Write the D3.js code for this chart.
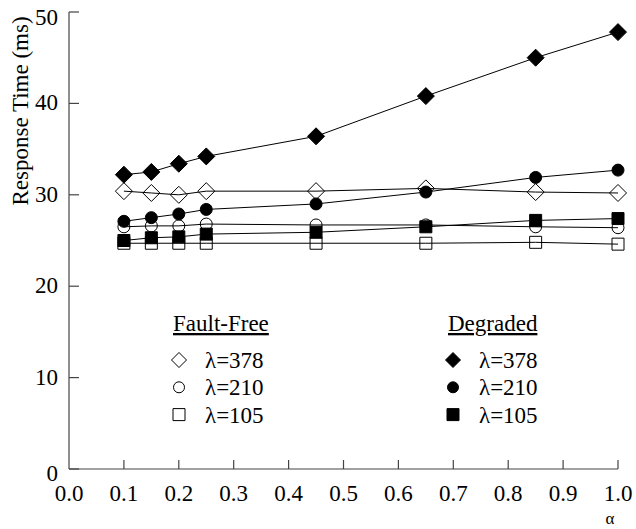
<!DOCTYPE html>
<html>
<head>
<meta charset="utf-8">
<script src="https://d3js.org/d3.v7.min.js"></script>
</head>
<body style="margin:0">
<script>
// alpha values on the x axis
var alphas = [0.1, 0.15, 0.2, 0.25, 0.45, 0.65, 0.85, 1.0]

// fault-free runs (open markers)
var ff378 = [30.4, 30.2, 30.0, 30.4, 30.4, 30.7, 30.3, 30.2]
var ff210 = [26.5, 26.6, 26.6, 26.8, 26.7, 26.7, 26.5, 26.4]
var ff105 = [24.7, 24.7, 24.7, 24.7, 24.7, 24.7, 24.8, 24.6]

// degraded runs (filled markers)
var dg378 = [32.2, 32.5, 33.4, 34.2, 36.4, 40.8, 45.0, 47.8]
var dg210 = [27.1, 27.5, 27.9, 28.4, 29.0, 30.3, 31.9, 32.7]
var dg105 = [25.0, 25.3, 25.4, 25.7, 25.9, 26.5, 27.2, 27.4]

var xTicks = [0, 0.1, 0.2, 0.3, 0.4, 0.5, 0.6, 0.7, 0.8, 0.9, 1.0]
var yTicks = [0, 10, 20, 30, 40, 50]

var series = [
  {name:"λ=378", vals:ff378, shape:"diamond", filled:false},
  {name:"λ=210", vals:ff210, shape:"circle", filled:false},
  {name:"λ=105", vals:ff105, shape:"square", filled:false},
  {name:"λ=378", vals:dg378, shape:"diamond", filled:true},
  {name:"λ=210", vals:dg210, shape:"circle", filled:true},
  {name:"λ=105", vals:dg105, shape:"square", filled:true}
]

var w = 636, h = 529
var x0 = 69, x1 = 618, y0 = 469, y1 = 12
var fs = 23
var fam = "Liberation Serif, Times New Roman, serif"

var xScale = d3.scaleLinear().domain([0,1]).range([x0,x1])
var yScale = d3.scaleLinear().domain([0,50]).range([y0,y1])

var svg = d3.select("body").append("svg")
  .attr("width",w).attr("height",h)
  .attr("font-family",fam)

// every label goes through here so the serif font is set on the element itself
function label(x, y, str, anchor, size){
  return svg.append("text").attr("x",x).attr("y",y)
    .attr("text-anchor",anchor || "start")
    .attr("font-size",size || fs)
    .attr("font-family",fam)
    .style("font-family",fam)
    .text(str)
}

// marker path generator: size is roughly the marker width in px
function marker(shape, size){
  var r = size/2
  if(shape=="diamond") return "M0,"+(-r)+"L"+r+",0L0,"+r+"L"+(-r)+",0Z"
  if(shape=="square") return "M"+(-r)+","+(-r)+"h"+size+"v"+size+"h"+(-size)+"Z"
  return d3.symbol().type(d3.symbolCircle).size(Math.PI*r*r)()
}
var bigSize = {diamond:17, circle:12, square:12}
var smallSize = {diamond:15, circle:11, square:12}

// axes
var axisColor = "#444"
svg.append("line").attr("x1",x0).attr("x2",x0).attr("y1",y1).attr("y2",y0)
  .attr("stroke",axisColor).attr("stroke-width",1.2)
svg.append("line").attr("x1",x0).attr("x2",x1).attr("y1",y0).attr("y2",y0)
  .attr("stroke",axisColor).attr("stroke-width",1.2)

yTicks.forEach(function(d){
  svg.append("line").attr("x1",x0).attr("x2",x0+10)
    .attr("y1",yScale(d)).attr("y2",yScale(d))
    .attr("stroke",axisColor).attr("stroke-width",1.2)
  // top and bottom labels sit a bit lower in the original
  var off = d==50 ? 13 : (d==0 ? 12 : 7)
  label(x0-11, yScale(d)+off, String(d), "end")
})

xTicks.forEach(function(d){
  if(d>0){
    svg.append("line").attr("x1",xScale(d)).attr("x2",xScale(d))
      .attr("y1",y0).attr("y2",y0-9)
      .attr("stroke",axisColor).attr("stroke-width",1.2)
  }
  label(xScale(d), 501, d.toFixed(1), "middle")
})

label(610, 524, "α", "middle", 17)

label(0, 0, "Response Time (ms)", "middle")
  .attr("transform","translate(28,111) rotate(-90)")

// lines
var line = d3.line()
  .x(function(d,i){return xScale(alphas[i])})
  .y(function(d){return yScale(d)})

series.forEach(function(s){
  svg.append("path").datum(s.vals)
    .attr("d",line).attr("fill","none")
    .attr("stroke","#000").attr("stroke-width",1)
})

// markers, open ones first so filled sit on top like the original
series.forEach(function(s){
  svg.selectAll(null).data(s.vals).enter().append("path")
    .attr("d",marker(s.shape,bigSize[s.shape]))
    .attr("transform",function(d,i){return "translate("+xScale(alphas[i])+","+yScale(d)+")"})
    .attr("fill",s.filled ? "#000" : "none")
    .attr("stroke","#000").attr("stroke-width",1)
})

// legends, titles underlined
function legend(title, items, tx, mx, lx){
  label(tx, 331, title).style("text-decoration","underline")
  items.forEach(function(s,i){
    var base = 368 + i*27.3
    svg.append("path").attr("d",marker(s.shape,smallSize[s.shape]))
      .attr("transform","translate("+mx+","+(base-8)+")")
      .attr("fill",s.filled ? "#000" : "none")
      .attr("stroke","#000").attr("stroke-width",1)
    label(lx, base, s.name)
  })
}
legend("Fault-Free", series.slice(0,3), 173, 179, 205)
legend("Degraded", series.slice(3), 448, 453, 479)
</script>
</body>
</html>
